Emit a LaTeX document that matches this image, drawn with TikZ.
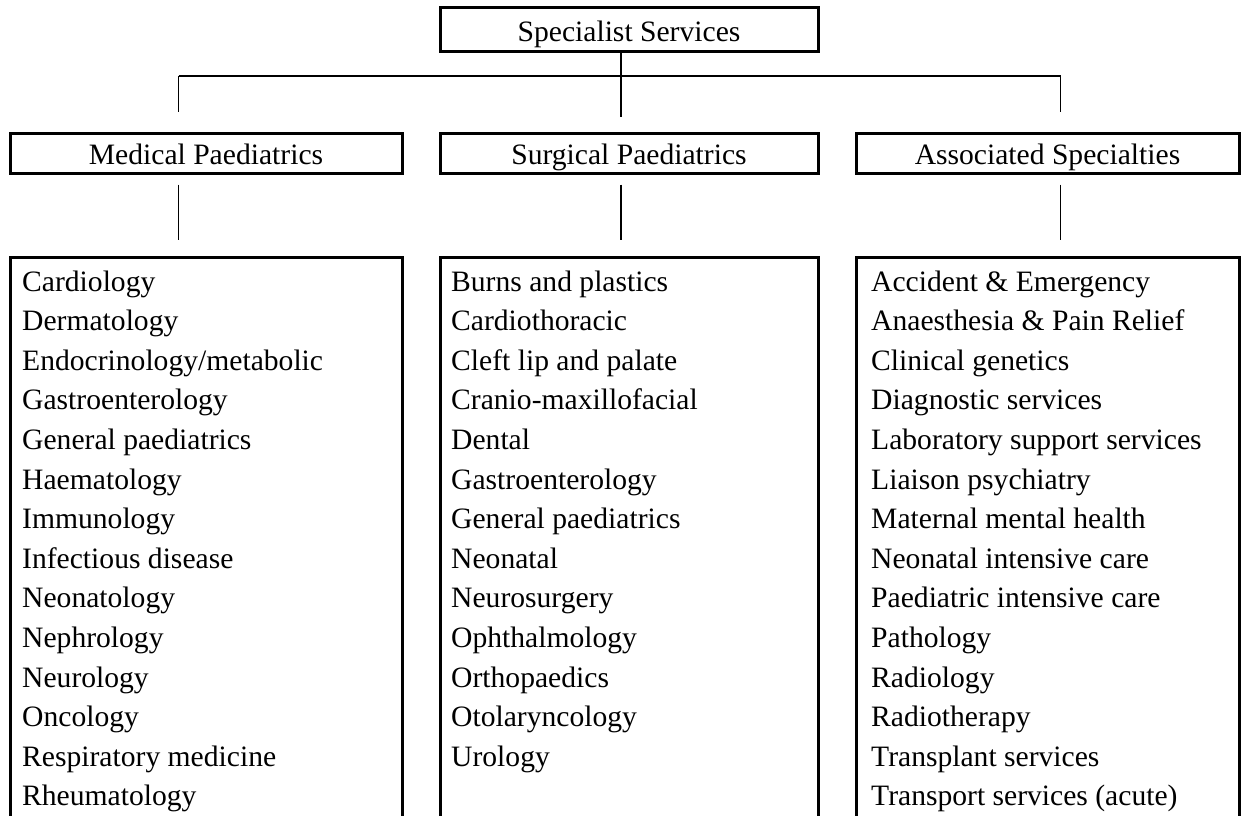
\documentclass[tikz,border=0pt]{standalone}
\usepackage{fontspec}
\setmainfont{Liberation Serif}
\usetikzlibrary{calc}
\begin{document}
\begin{tikzpicture}[x=1pt,y=-1pt,
  box/.style={draw=black,line width=3pt,inner sep=0pt,minimum height=40pt,
     text height=23pt,text depth=0pt,font=\fontsize{29.6}{36}\selectfont},
  listbox/.style={draw=black,line width=3pt,inner sep=0pt,minimum height=600pt,anchor=north},
  conn/.style={draw=black,line width=1.4pt},
  item/.style={anchor=base west,inner sep=0pt,font=\fontsize{29.6}{36}\selectfont}]
\useasboundingbox (0,0) rectangle (1243,816);
\clip (0,0) rectangle (1243,816);
\fill[white] (0,0) rectangle (1243,816);
% boxes
\node[box,minimum width=378pt,minimum height=44pt] (top) at (629,30) {Specialist Services};
\node[box,minimum width=392pt] (med) at (206,153) {Medical Paediatrics};
\node[box,minimum width=378pt] (surg) at (629,153) {Surgical Paediatrics};
\node[box,minimum width=383pt] (assoc) at (1047.5,153) {Associated Specialties};
\node[listbox,minimum width=392pt] (medlist) at (206,256) {};
\node[listbox,minimum width=378pt] (surglist) at (629,256) {};
\node[listbox,minimum width=383pt] (assoclist) at (1047.5,256) {};
% connectors
\coordinate (jL) at (178.5,76);
\coordinate (jM) at (621,76);
\coordinate (jR) at (1060.5,76);
\draw[conn] (top.south -| jM) -- ++(0,63);
\draw[conn] (jL) -- (jR);
\draw[conn] (jL) -- ($(med.north -| jL)+(0,-20)$);
\draw[conn] (jM) -- ($(surg.north -| jM)+(0,-20)$);
\draw[conn] (jR) -- ($(assoc.north -| jR)+(0,-20)$);
\draw[conn] ($(med.south -| jL)+(0,10)$) -- ($(medlist.north -| jL)+(0,-16)$);
\draw[conn] ($(surg.south -| jM)+(0,10)$) -- ($(surglist.north -| jM)+(0,-16)$);
\draw[conn] ($(assoc.south -| jR)+(0,10)$) -- ($(assoclist.north -| jR)+(0,-16)$);
% lists
\foreach \t [count=\i] in {Cardiology,Dermatology,Endocrinology/metabolic,Gastroenterology,General paediatrics,Haematology,Immunology,Infectious disease,Neonatology,Nephrology,Neurology,Oncology,Respiratory medicine,Rheumatology}
  \node[item] (m\i) at (22,{291+(\i-1)*39.6}) {\t};
\foreach \t [count=\i] in {Burns and plastics,Cardiothoracic,Cleft lip and palate,Cranio-maxillofacial,Dental,Gastroenterology,General paediatrics,Neonatal,Neurosurgery,Ophthalmology,Orthopaedics,Otolaryncology,Urology}
  \node[item] (s\i) at (451,{291+(\i-1)*39.6}) {\t};
\foreach \t [count=\i] in {Accident \& Emergency,Anaesthesia \& Pain Relief,Clinical genetics,Diagnostic services,Laboratory support services,Liaison psychiatry,Maternal mental health,Neonatal intensive care,Paediatric intensive care,Pathology,Radiology,Radiotherapy,Transplant services,Transport services (acute)}
  \node[item] (a\i) at (871,{291+(\i-1)*39.6}) {\t};
\end{tikzpicture}
\end{document}
